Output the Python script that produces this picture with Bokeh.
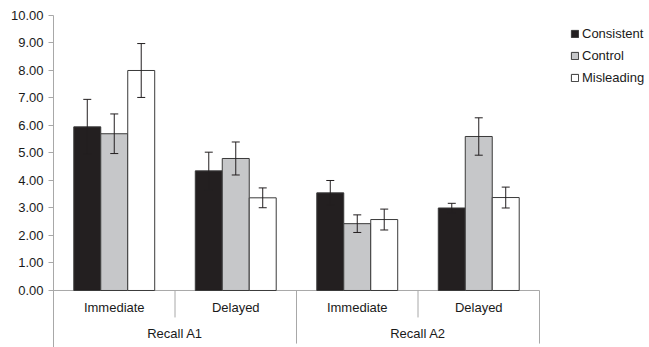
from bokeh.plotting import figure
from bokeh.models import (Range1d, FixedTicker, NumeralTickFormatter, Whisker,
                          ColumnDataSource, Legend, LegendItem, TeeHead)
from bokeh.core.properties import value
from bokeh.embed import file_html
from bokeh.resources import INLINE

# ---- data ----
groups = ["Recall A1", "Recall A2"]
subcats = ["Immediate", "Delayed", "Immediate", "Delayed"]
series = ["Consistent", "Control", "Misleading"]
consistent = [5.95, 4.35, 3.55, 3.00]
consistent_err = [1.00, 0.68, 0.45, 0.17]
control = [5.70, 4.80, 2.43, 5.60]
control_err = [0.72, 0.60, 0.32, 0.68]
misleading = [8.00, 3.37, 2.58, 3.38]
misleading_err = [0.98, 0.36, 0.38, 0.38]
y_ticks = [0, 1, 2, 3, 4, 5, 6, 7, 8, 9, 10]

values = [consistent, control, misleading]
errors = [consistent_err, control_err, misleading_err]
fills = ["#231f20", "#c6c7c9", "#ffffff"]

FONT = "Liberation Sans"
bar_w = 0.222
n = len(subcats)

p = figure(width=649, height=347, output_backend="svg", toolbar_location=None,
           x_range=Range1d(0, 596 / 121.5), y_range=Range1d(-2.073, 10),
           min_border_left=53, min_border_right=0, min_border_top=15,
           min_border_bottom=0, x_axis_location=None)
p.outline_line_color = None
p.xgrid.visible = False
p.ygrid.visible = False
p.background_fill_color = "white"
p.border_fill_color = "white"

ax = p.yaxis[0]
ax.ticker = FixedTicker(ticks=y_ticks, minor_ticks=[])
ax.formatter = NumeralTickFormatter(format="0.00")
ax.axis_line_color = "#a8a8a8"
ax.major_tick_line_color = "#a8a8a8"
ax.major_tick_out = 5
ax.major_tick_in = 0
ax.minor_tick_line_color = None
ax.major_label_text_font = FONT
ax.major_label_text_font_size = "13px"
ax.major_label_text_color = "#1a1a1a"
ax.major_label_standoff = 5

# category axis line and separators
p.segment(x0=[0], y0=[0], x1=[n], y1=[0], line_color="#a8a8a8", line_width=1)
short_bottom = -0.98
long_bottom = -1.93
sep_x = list(range(1, n + 1))
sep_bottom = [short_bottom if i % 2 == 1 else long_bottom for i in sep_x]
p.segment(x0=sep_x, y0=[0] * n, x1=sep_x, y1=sep_bottom,
          line_color="#a8a8a8", line_width=1)

ERR = "#231f20"
items = []
for k, (name, vals, errs, fc) in enumerate(zip(series, values, errors, fills)):
    xs = [i + 0.5 + (k - 1) * bar_w for i in range(n)]
    src = ColumnDataSource(dict(x=xs, top=vals,
                                upper=[v + e for v, e in zip(vals, errs)],
                                lower=[v - e for v, e in zip(vals, errs)]))
    r = p.vbar(x="x", top="top", bottom=0, width=bar_w, source=src,
               fill_color=fc, line_color="#3a3a3a", line_width=1)
    items.append(LegendItem(label=name, renderers=[r]))
    w = Whisker(source=src, base="x", upper="upper", lower="lower",
                dimension="height", line_color=ERR, line_width=1,
                level="annotation",
                upper_head=TeeHead(size=8, line_color=ERR, line_width=1),
                lower_head=TeeHead(size=8, line_color=ERR, line_width=1))
    p.add_layout(w)

# category labels
p.text(x=[i + 0.5 for i in range(n)], y=[-0.62] * n, text=subcats,
       text_font=value(FONT), text_font_size="13px", text_color="#1a1a1a",
       text_align="center", text_baseline="middle")
p.text(x=[2 * g + 1 for g in range(len(groups))], y=[-1.56] * len(groups),
       text=groups, text_font=value(FONT), text_font_size="13px",
       text_color="#1a1a1a", text_align="center", text_baseline="middle")

legend = Legend(items=items, location=(517, 260),
                glyph_width=9, glyph_height=9, label_height=19, spacing=3,
                padding=2, margin=0, label_standoff=3,
                label_text_font=FONT, label_text_font_size="13px",
                label_text_color="#1a1a1a",
                border_line_color=None, background_fill_alpha=0)
p.add_layout(legend)

open("out.html", "w").write(file_html(p, INLINE))
